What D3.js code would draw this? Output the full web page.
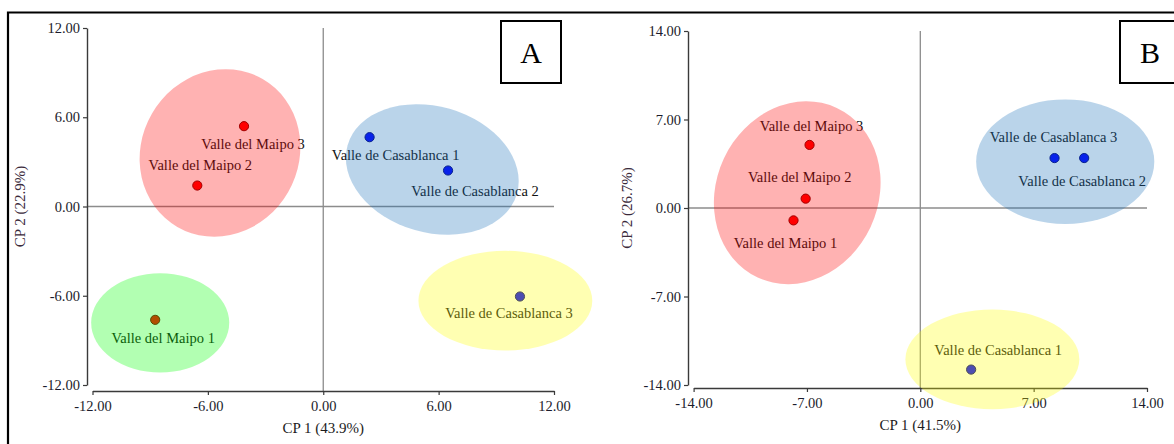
<!DOCTYPE html>
<html>
<head>
<meta charset="utf-8">
<script src="https://cdn.jsdelivr.net/npm/d3@7"></script>
<style>
  html, body { margin: 0; padding: 0; background: #ffffff; }
  svg { display: block; font-family: "Liberation Serif", "Times New Roman", serif; }
</style>
</head>
<body>
<script>
// ---- Panel A: PCA scores (CP 1 43.9 %, CP 2 22.9 %) ----
const samplesA = ["Valle del Maipo 3", "Valle del Maipo 2", "Valle de Casablanca 1",
                  "Valle de Casablanca 2", "Valle del Maipo 1", "Valle de Casablanca 3"];
const cp1A = [-4.12, -6.55, 2.41, 6.49, -8.74, 10.23];
const cp2A = [5.40, 1.41, 4.66, 2.42, -7.62, -6.05];
const originA = ["maipo", "maipo", "casablanca", "casablanca", "maipo", "casablanca"];

// cluster ellipses for panel A (centre, semi-axes in score units, tilt in degrees)
const clusterA = ["red", "blue", "green", "yellow"];
const clusterCxA = [-5.37, 5.67, -8.48, 9.47];
const clusterCyA = [3.60, 2.49, -7.82, -6.33];
const clusterRxA = [4.09, 4.58, 3.59, 4.52];
const clusterRyA = [5.74, 4.24, 3.34, 3.35];
const clusterTiltA = [30, 16, 0, 0];

const ticksA = [-12, -6, 0, 6, 12];

// ---- Panel B: PCA scores (CP 1 41.5 %, CP 2 26.7 %) ----
const samplesB = ["Valle del Maipo 3", "Valle del Maipo 2", "Valle del Maipo 1",
                  "Valle de Casablanca 3", "Valle de Casablanca 2", "Valle de Casablanca 1"];
const cp1B = [-6.84, -7.08, -7.83, 8.29, 10.12, 3.14];
const cp2B = [4.99, 0.74, -0.98, 3.95, 3.95, -12.78];
const originB = ["maipo", "maipo", "maipo", "casablanca", "casablanca", "casablanca"];

const clusterB = ["red", "blue", "yellow"];
const clusterCxB = [-7.60, 8.95, 4.45];
const clusterCyB = [1.21, 3.66, -11.97];
const clusterRxB = [5.00, 5.50, 5.37];
const clusterRyB = [7.40, 4.93, 3.94];
const clusterTiltB = [25, 0, 0];

const ticksB = [-14, -7, 0, 7, 14];

// label offsets from each point (pixels)
const labelDxA = [9, 3, 26, 27, 8, -11];
const labelDyA = [18, -21, 18, 20, 18, 16];
const labelDxB = [2, -6, -8, -1, -2, 27];
const labelDyB = [-19, -22, 23, -21, 23, -20];

const pointColour = { maipo: "#ff0000", casablanca: "#0000ff" };
const pointStroke = { maipo: "#7a0000", casablanca: "#00007a" };
const clusterColour = { red: "#ff0000", blue: "#1a72b8", green: "#00ff00", yellow: "#ffff00" };

const fmt = d3.formatLocale({ decimal: ".", thousands: ",", grouping: [3],
                              currency: ["", ""], minus: "-" }).format(".2f");

const W = 1174, H = 444;
const svg = d3.select("body").append("svg").attr("width", W).attr("height", H);

function drawPanel(p) {
  const x = d3.scaleLinear().domain(p.xDomain).range(p.xRange);
  const y = d3.scaleLinear().domain(p.yDomain).range(p.yRange);
  const g = svg.append("g");

  // zero reference lines
  g.append("line")
    .attr("x1", p.yAxisX).attr("x2", x(p.xDomain[1]))
    .attr("y1", y(0)).attr("y2", y(0))
    .attr("stroke", "#8c8c8c").attr("stroke-width", 1.3);
  g.append("line")
    .attr("x1", x(0)).attr("x2", x(0))
    .attr("y1", y(p.yDomain[1])).attr("y2", p.xAxisY)
    .attr("stroke", "#8c8c8c").attr("stroke-width", 1.3);

  // axes
  const yAxis = g.append("g")
    .attr("transform", `translate(${p.yAxisX},0)`)
    .call(d3.axisLeft(y).tickValues(p.ticks).tickFormat(fmt).tickSize(4).tickSizeOuter(0).tickPadding(3));
  const xAxis = g.append("g")
    .attr("transform", `translate(0,${p.xAxisY})`)
    .call(d3.axisBottom(x).tickValues(p.ticks).tickFormat(fmt).tickSize(4).tickSizeOuter(0).tickPadding(6));
  [yAxis, xAxis].forEach(a => {
    a.select(".domain").attr("stroke", "#3a3a3a").attr("stroke-width", 1.4);
    a.selectAll(".tick line").attr("stroke", "#3a3a3a").attr("stroke-width", 1.2);
    a.selectAll(".tick text")
      .attr("fill", "#1c1c2c")
      .style("font-family", "'Liberation Serif', serif")
      .style("font-size", "14.5px");
  });

  // axis titles
  g.append("text")
    .attr("x", x(0)).attr("y", p.xAxisY + 42)
    .attr("text-anchor", "middle")
    .attr("fill", "#1c1c1c")
    .style("font-size", "15px")
    .text(p.xTitle);
  g.append("text")
    .attr("transform", `translate(${p.yTitleX},${(p.yRange[0] + p.yRange[1]) / 2}) rotate(-90)`)
    .attr("text-anchor", "middle")
    .attr("dy", "0.35em")
    .attr("fill", "#3a2a3a")
    .style("font-size", "15px")
    .text(p.yTitle);

  const idx = d3.range(p.samples.length);

  // sample points
  g.selectAll("circle.pt").data(idx).join("circle")
    .attr("class", "pt")
    .attr("cx", i => x(p.cp1[i]))
    .attr("cy", i => y(p.cp2[i]))
    .attr("r", 4.6)
    .attr("fill", i => pointColour[p.origin[i]])
    .attr("stroke", i => pointStroke[p.origin[i]])
    .attr("stroke-width", 1);

  // sample labels
  g.selectAll("text.lbl").data(idx).join("text")
    .attr("class", "lbl")
    .attr("x", i => x(p.cp1[i]) + p.labelDx[i])
    .attr("y", i => y(p.cp2[i]) + p.labelDy[i])
    .attr("dy", "0.35em")
    .attr("text-anchor", "middle")
    .attr("fill", "#111111")
    .style("font-size", "14.5px")
    .text(i => p.samples[i]);

  // translucent cluster ellipses laid over the points
  const cIdx = d3.range(p.cluster.length);
  g.selectAll("ellipse").data(cIdx).join("ellipse")
    .attr("transform", i => `translate(${x(p.cx[i])},${y(p.cy[i])}) rotate(${p.tilt[i]})`)
    .attr("rx", i => Math.abs(x(p.cx[i] + p.rx[i]) - x(p.cx[i])))
    .attr("ry", i => Math.abs(y(p.cy[i] + p.ry[i]) - y(p.cy[i])))
    .attr("fill", i => clusterColour[p.cluster[i]])
    .attr("fill-opacity", 0.3);

  // panel letter box
  g.append("rect")
    .attr("x", p.box[0]).attr("y", p.box[1])
    .attr("width", p.box[2]).attr("height", p.box[3])
    .attr("fill", "#ffffff").attr("stroke", "#000000").attr("stroke-width", 2);
  g.append("text")
    .attr("x", p.letterX).attr("y", p.box[1] + p.box[3] / 2)
    .attr("dy", "0.35em")
    .attr("text-anchor", "middle")
    .attr("fill", "#000000")
    .style("font-size", "30px")
    .text(p.letter);
}

drawPanel({
  samples: samplesA, cp1: cp1A, cp2: cp2A, origin: originA,
  cluster: clusterA, cx: clusterCxA, cy: clusterCyA, rx: clusterRxA, ry: clusterRyA, tilt: clusterTiltA,
  labelDx: labelDxA, labelDy: labelDyA,
  ticks: ticksA, xDomain: [-12, 12], yDomain: [-12, 12],
  xRange: [92.5, 554], yRange: [385, 28], yAxisX: 87, xAxisY: 391,
  xTitle: "CP 1 (43.9%)", yTitle: "CP 2 (22.9%)", yTitleX: 20,
  box: [501, 21, 60, 62], letterX: 531, letter: "A"
});

drawPanel({
  samples: samplesB, cp1: cp1B, cp2: cp2B, origin: originB,
  cluster: clusterB, cx: clusterCxB, cy: clusterCyB, rx: clusterRxB, ry: clusterRyB, tilt: clusterTiltB,
  labelDx: labelDxB, labelDy: labelDyB,
  ticks: ticksB, xDomain: [-14, 14], yDomain: [-14, 14],
  xRange: [693.6, 1147], yRange: [385, 31], yAxisX: 688, xAxisY: 388,
  xTitle: "CP 1 (41.5%)", yTitle: "CP 2 (26.7%)", yTitleX: 627,
  box: [1120, 21, 70, 62], letterX: 1150, letter: "B"
});

// outer frame (top and left edges)
svg.append("path")
  .attr("d", `M8,${H} V12.5 H${W}`)
  .attr("fill", "none").attr("stroke", "#000000").attr("stroke-width", 2.2);
</script>
</body>
</html>
